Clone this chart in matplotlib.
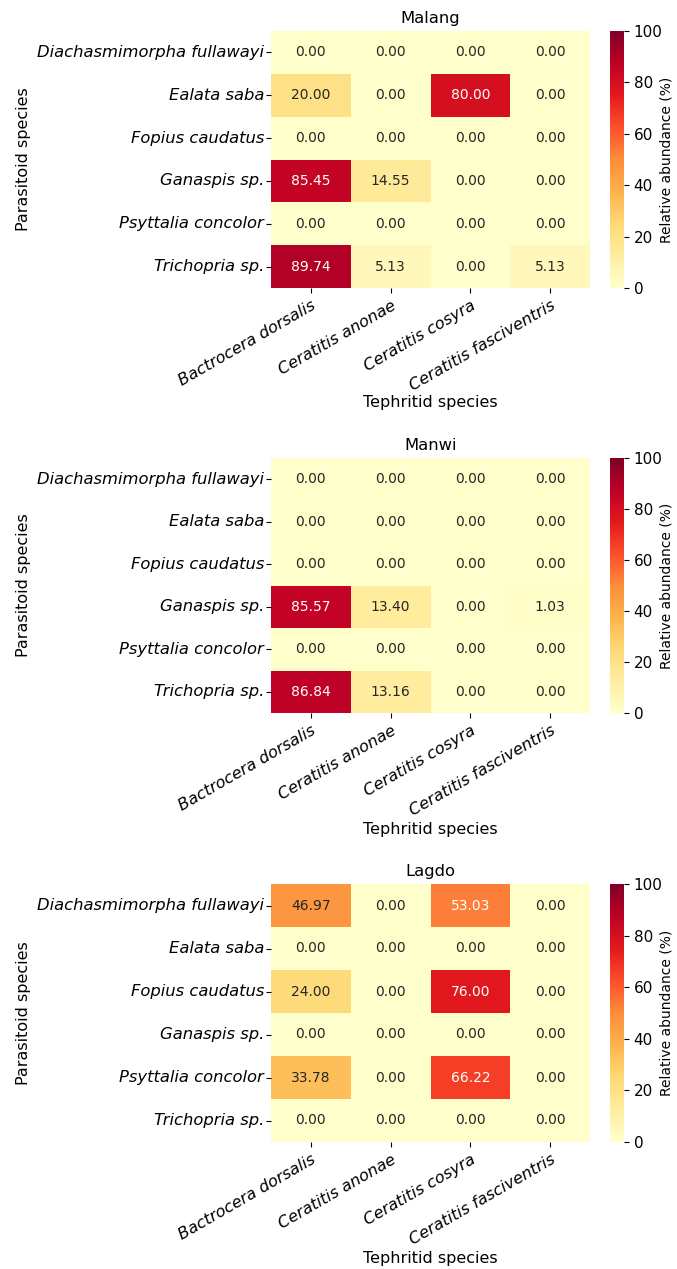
import numpy as np
import pandas as pd
import matplotlib
matplotlib.use("Agg")
import matplotlib.pyplot as plt
import seaborn as sns

parasitoids = ["Diachasmimorpha fullawayi", "Ealata saba", "Fopius caudatus",
               "Ganaspis sp.", "Psyttalia concolor", "Trichopria sp."]
tephritids = ["Bactrocera dorsalis", "Ceratitis anonae", "Ceratitis cosyra",
              "Ceratitis fasciventris"]

malang = [[0.00, 0.00, 0.00, 0.00],
          [20.00, 0.00, 80.00, 0.00],
          [0.00, 0.00, 0.00, 0.00],
          [85.45, 14.55, 0.00, 0.00],
          [0.00, 0.00, 0.00, 0.00],
          [89.74, 5.13, 0.00, 5.13]]

manwi = [[0.00, 0.00, 0.00, 0.00],
         [0.00, 0.00, 0.00, 0.00],
         [0.00, 0.00, 0.00, 0.00],
         [85.57, 13.40, 0.00, 1.03],
         [0.00, 0.00, 0.00, 0.00],
         [86.84, 13.16, 0.00, 0.00]]

lagdo = [[46.97, 0.00, 53.03, 0.00],
         [0.00, 0.00, 0.00, 0.00],
         [24.00, 0.00, 76.00, 0.00],
         [0.00, 0.00, 0.00, 0.00],
         [33.78, 0.00, 66.22, 0.00],
         [0.00, 0.00, 0.00, 0.00]]

sites = ["Malang", "Manwi", "Lagdo"]
tables = [malang, manwi, lagdo]

W, H = 677, 1269
fig = plt.figure(figsize=(W / 100, H / 100), dpi=100)

# (top, bottom, x-label top) pixel rows of each panel
extents = [(31, 288, 395), (458, 713, 822), (884, 1142, 1251)]
left_px, right_px = 271, 590
cb_left, cb_w = 610, 14
ylabel_right_px = 31
cblabel_left_px = 659

for site, table, (top, bot, xl_top) in zip(sites, tables, extents):
    df = pd.DataFrame(table, index=parasitoids, columns=tephritids)
    ax = fig.add_axes([left_px / W, 1 - bot / H, (right_px - left_px) / W, (bot - top) / H])
    cax = fig.add_axes([cb_left / W, 1 - bot / H, cb_w / W, (bot - top) / H])
    sns.heatmap(df, ax=ax, cbar_ax=cax, cmap="YlOrRd", vmin=0, vmax=100,
                annot=True, fmt=".2f", annot_kws={"fontsize": 10})
    ax.set_title(site, fontsize=11.8)
    ax.set_xlabel("Tephritid species", fontsize=11.5)
    ax.set_ylabel("Parasitoid species", fontsize=11.5)
    ax.set_yticklabels(parasitoids, rotation=0, fontstyle="italic", fontsize=11.8)
    ax.set_xticklabels(tephritids, rotation=30, ha="right", rotation_mode="anchor",
                       fontstyle="italic", fontsize=11.6)
    ax.tick_params(axis="y", pad=1.5)
    h = bot - top
    w = right_px - left_px
    ax.xaxis.set_label_coords(0.5, (bot - xl_top) / h)
    ax.yaxis.set_label_coords((ylabel_right_px - left_px) / w, 0.5)
    cax.tick_params(labelsize=11)
    cax.set_ylabel("Relative abundance (%)", fontsize=10)
    cax.yaxis.set_label_coords((cblabel_left_px - cb_left) / cb_w, 0.5)

fig.savefig("out.png", dpi=100)
